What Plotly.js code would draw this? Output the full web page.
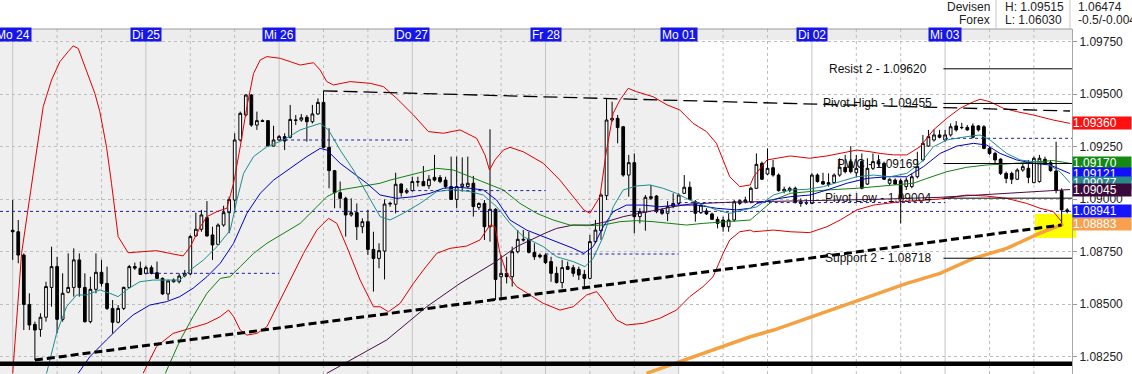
<!DOCTYPE html>
<html><head><meta charset="utf-8">
<script src="https://cdn.plot.ly/plotly-3.0.1.min.js"></script>
<style>html,body{margin:0;padding:0;background:#fff;}#chart{width:1132px;height:374px;}</style>
</head><body><div id="chart"></div>
<script>
// ---------------- DATA (hourly EUR/USD candles) ----------------
const openP = [1.08851,1.08844,1.08733,1.08498,1.08403,1.08379,1.08437,1.08579,1.08678,1.08427,
1.08556,1.08579,1.08710,1.08579,1.08416,1.08570,1.08651,1.08598,1.08479,1.08413,
1.08479,1.08579,1.08678,1.08670,1.08646,1.08673,1.08649,1.08622,1.08548,1.08606,
1.08606,1.08635,1.08643,1.08824,1.08856,1.08911,1.08829,1.08784,1.08876,1.08935,
1.08995,1.09281,1.09400,1.09495,1.09352,1.09373,1.09373,1.09252,1.09281,1.09297,
1.09294,1.09376,1.09376,1.09389,1.09368,1.09405,1.09460,1.09246,1.09135,1.09030,
1.09003,1.08924,1.08935,1.08868,1.08892,1.08760,1.08717,1.08752,1.08976,1.08975,
1.09071,1.09032,1.09040,1.09083,1.09083,1.09063,1.09103,1.09102,1.09090,1.09059,
1.08998,1.09059,1.09059,1.09075,1.08960,1.08979,1.08868,1.08951,1.08630,1.08646,
1.08630,1.08749,1.08808,1.08808,1.08746,1.08733,1.08733,1.08702,1.08646,1.08602,
1.08678,1.08673,1.08665,1.08641,1.08622,1.08797,1.08849,1.09016,1.09376,1.09384,
1.09344,1.09114,1.09173,1.08916,1.08937,1.09003,1.09014,1.08948,1.08932,1.08964,
1.08979,1.09027,1.09056,1.08987,1.08935,1.08943,1.08929,1.08903,1.08900,1.08868,
1.08900,1.08979,1.08987,1.08987,1.09051,1.09170,1.09119,1.09149,1.09114,1.09038,
1.09040,1.09051,1.08987,1.08983,1.08979,1.09114,1.09083,1.09078,1.09078,1.09114,
1.09151,1.09178,1.09125,1.09178,1.09071,1.09146,1.09178,1.09170,1.09075,1.09090,
1.09087,1.09059,1.09059,1.09106,1.09186,1.09252,1.09281,1.09305,1.09281,1.09305,
1.09348,1.09341,1.09341,1.09348,1.09348,1.09344,1.09241,1.09217,1.09190,1.09122,
1.09122,1.09094,1.09138,1.09146,1.09078,1.09083,1.09189,1.09173,1.09133,1.09040,
1.08948];
const highP = [1.08995,1.08900,1.08741,1.08551,1.08416,1.08456,1.08606,1.08773,1.08725,1.08646,
1.08741,1.08765,1.08741,1.08646,1.08630,1.08741,1.08710,1.08678,1.08519,1.08495,
1.08583,1.08686,1.08697,1.08702,1.08683,1.08684,1.08702,1.08627,1.08617,1.08622,
1.08646,1.08662,1.08829,1.08935,1.08948,1.08990,1.08868,1.08884,1.08968,1.09011,
1.09313,1.09416,1.09500,1.09500,1.09416,1.09379,1.09376,1.09349,1.09305,1.09313,
1.09448,1.09400,1.09405,1.09400,1.09448,1.09479,1.09515,1.09337,1.09138,1.09083,
1.09011,1.09003,1.08979,1.08908,1.08948,1.08844,1.08789,1.08998,1.08987,1.09125,
1.09075,1.09051,1.09106,1.09106,1.09157,1.09114,1.09210,1.09114,1.09106,1.09202,
1.09202,1.09198,1.09202,1.09110,1.08984,1.08995,1.09332,1.08956,1.08733,1.08725,
1.08773,1.08852,1.08852,1.08844,1.08789,1.08741,1.08741,1.08725,1.08678,1.08710,
1.08702,1.08686,1.08678,1.08662,1.08829,1.08900,1.09027,1.09479,1.09463,1.09400,
1.09348,1.09210,1.09217,1.08956,1.09019,1.09067,1.09019,1.08956,1.08990,1.09027,
1.09027,1.09114,1.09083,1.08995,1.08979,1.08956,1.08935,1.08916,1.08916,1.08932,
1.08995,1.08998,1.09011,1.09059,1.09217,1.09178,1.09241,1.09186,1.09122,1.09059,
1.09059,1.09059,1.09003,1.08998,1.09122,1.09122,1.09125,1.09122,1.09122,1.09194,
1.09210,1.09252,1.09210,1.09217,1.09194,1.09217,1.09210,1.09178,1.09098,1.09098,
1.09098,1.09103,1.09122,1.09225,1.09305,1.09329,1.09332,1.09329,1.09329,1.09360,
1.09371,1.09363,1.09352,1.09360,1.09352,1.09352,1.09249,1.09225,1.09194,1.09130,
1.09130,1.09146,1.09170,1.09186,1.09202,1.09210,1.09202,1.09186,1.09273,1.09051,
1.08956];
const lowP = [1.08710,1.08694,1.08376,1.08376,1.08233,1.08344,1.08416,1.08487,1.08360,1.08416,
1.08551,1.08535,1.08535,1.08411,1.08408,1.08551,1.08583,1.08471,1.08360,1.08408,
1.08471,1.08575,1.08662,1.08638,1.08641,1.08641,1.08619,1.08543,1.08519,1.08602,
1.08598,1.08627,1.08638,1.08821,1.08844,1.08821,1.08710,1.08781,1.08868,1.08837,
1.08932,1.09273,1.09392,1.09344,1.09329,1.09367,1.09252,1.09249,1.09278,1.09233,
1.09289,1.09352,1.09368,1.09273,1.09360,1.09400,1.09241,1.09051,1.08956,1.08956,
1.08821,1.08916,1.08805,1.08837,1.08733,1.08559,1.08670,1.08617,1.08963,1.08932,
1.09011,1.09024,1.09035,1.09059,1.09062,1.09048,1.09083,1.09075,1.09051,1.08995,
1.08956,1.09035,1.09051,1.08916,1.08948,1.08805,1.08797,1.08519,1.08519,1.08598,
1.08583,1.08741,1.08797,1.08741,1.08710,1.08717,1.08690,1.08606,1.08598,1.08575,
1.08662,1.08630,1.08614,1.08575,1.08617,1.08789,1.08805,1.08995,1.09368,1.09265,
1.09106,1.09011,1.08837,1.08884,1.08849,1.08995,1.08932,1.08924,1.08895,1.08956,
1.08971,1.09024,1.08995,1.08892,1.08929,1.08924,1.08900,1.08860,1.08844,1.08844,
1.08892,1.08971,1.08979,1.08979,1.09048,1.09090,1.09114,1.09106,1.09035,1.09027,
1.09032,1.08979,1.08963,1.08971,1.08976,1.09078,1.09067,1.09059,1.09075,1.09106,
1.09122,1.09122,1.09103,1.09046,1.09067,1.09138,1.09154,1.09090,1.09067,1.09067,
1.08884,1.09043,1.09051,1.09098,1.09178,1.09249,1.09273,1.09289,1.09273,1.09297,
1.09321,1.09332,1.09325,1.09289,1.09321,1.09237,1.09210,1.09162,1.09114,1.09075,
1.09071,1.09090,1.09130,1.09075,1.09075,1.09078,1.09162,1.09130,1.09027,1.08876,
1.08932];
const closeP = [1.08844,1.08733,1.08498,1.08400,1.08376,1.08437,1.08583,1.08678,1.08427,1.08551,
1.08579,1.08710,1.08579,1.08416,1.08570,1.08651,1.08598,1.08479,1.08413,1.08479,
1.08579,1.08678,1.08671,1.08641,1.08673,1.08646,1.08622,1.08548,1.08610,1.08614,
1.08633,1.08646,1.08821,1.08856,1.08924,1.08824,1.08781,1.08876,1.08935,1.08998,
1.09281,1.09408,1.09495,1.09352,1.09373,1.09370,1.09252,1.09281,1.09297,1.09276,
1.09379,1.09375,1.09387,1.09368,1.09405,1.09460,1.09246,1.09135,1.09030,1.09003,
1.08924,1.08935,1.08868,1.08892,1.08760,1.08717,1.08754,1.08976,1.08979,1.09070,
1.09030,1.09040,1.09083,1.09081,1.09063,1.09094,1.09090,1.09083,1.09059,1.08998,
1.09059,1.09071,1.09075,1.08964,1.08979,1.08868,1.08951,1.08617,1.08646,1.08630,
1.08749,1.08808,1.08805,1.08746,1.08725,1.08725,1.08697,1.08646,1.08602,1.08673,
1.08665,1.08646,1.08638,1.08622,1.08797,1.08852,1.09019,1.09376,1.09384,1.09340,
1.09114,1.09173,1.08916,1.08940,1.09008,1.09011,1.08940,1.08932,1.08964,1.08979,
1.09019,1.09056,1.08998,1.08932,1.08971,1.08929,1.08903,1.08884,1.08868,1.08900,
1.08987,1.08992,1.08995,1.09051,1.09165,1.09094,1.09146,1.09114,1.09040,1.09046,
1.09051,1.08983,1.08979,1.08981,1.09114,1.09083,1.09071,1.09070,1.09114,1.09151,
1.09130,1.09130,1.09146,1.09051,1.09146,1.09178,1.09167,1.09094,1.09094,1.09071,
1.09003,1.09090,1.09106,1.09154,1.09265,1.09297,1.09305,1.09294,1.09305,1.09344,
1.09329,1.09340,1.09329,1.09294,1.09329,1.09241,1.09217,1.09186,1.09122,1.09098,
1.09094,1.09138,1.09154,1.09103,1.09194,1.09194,1.09167,1.09135,1.09040,1.08948,
1.08941];

const dayLabels = ['Mo 24','Di 25','Mi 26','Do 27','Fr 28','Mo 01','Di 02','Mi 03'];
const dayStartIdx = [0,24,48,72,96,120,144,168];
const priceTicks = [1.0825,1.0850,1.0875,1.0900,1.0925,1.0950,1.0975];

// Bollinger bands (candle index, price)
const bbUpperX = [0,1.6,3.7,5.5,7.0,8.5,10.0,10.9,11.8,13.3,14.8,15.7,16.9,17.8,18.4,19.0,20.8,23.5,25.9,28.3,30.7,32.0,33.8,35.0,36.8,38.6,39.8,41.0,42.2,43.4,44.6,45.8,48.2,50.0,51.8,54.2,55.4,56.6,57.8,60.8,63.8,
64.4,66.8,69.2,72.2,74.9,77.6,80.6,83.6,85.1,85.9,86.9,88.4,89.6,92.0,95.6,98.6,101.0,102.9,104.0,105.8,107.0,108.2,109.4,110.9,112.4,115.4,117.9,120.2,122.6,125.0,126.8,128.0,129.2,131.0,132.9,
133.5,135.9,140.1,143.6,146.7,149.1,152.1,154.5,156.3,158.7,161.1,163.5,165.9,168.3,170.7,173.1,174.3,176.1,178.5,180.9,183.9,187.5,190.5];
const bbUpperY = [1.08170,1.08741,1.09122,1.09440,1.09567,1.09654,1.09702,1.09729,1.09717,1.09614,1.09503,1.09416,1.09249,1.09075,1.08932,1.08821,1.08744,1.08749,1.08754,1.08741,1.08729,1.08773,1.08868,1.08916,1.08940,1.08956,1.09075,1.09249,1.09440,1.09598,1.09662,1.09678,1.09670,1.09654,1.09638,1.09649,1.09614,1.09559,1.09543,1.09559,1.09551,
1.09551,1.09535,1.09479,1.09400,1.09321,1.09313,1.09329,1.09289,1.09210,1.09138,1.09186,1.09233,1.09246,1.09225,1.09170,1.09090,1.09011,1.08948,1.08932,1.09011,1.09233,1.09408,1.09471,1.09527,1.09511,1.09487,1.09448,1.09424,1.09360,1.09321,1.09265,1.09186,1.09106,1.09059,1.09067,
1.09106,1.09186,1.09205,1.09194,1.09205,1.09217,1.09233,1.09225,1.09217,1.09210,1.09210,1.09249,1.09329,1.09384,1.09432,1.09463,1.09475,1.09463,1.09432,1.09416,1.09400,1.09376,1.09360];
const bbLowerX = [23.5,25.9,28.9,32.0,35.0,37.4,38.9,39.8,41.0,42.2,44.0,45.8,47.6,50.0,52.4,54.8,56.9,58.4,60.2,62.6,65.0,
66.2,67.7,69.8,72.2,74.0,76.4,78.8,81.8,84.2,86.0,86.9,87.8,89.0,90.8,93.2,95.6,98.6,101.0,103.4,105.2,106.4,108.8,110.6,113.6,116.6,119.6,122.0,124.4,126.2,128.0,129.2,131.0,132.9,
133.5,137.1,140.1,143.6,146.7,149.1,152.1,155.1,159.9,164.7,168.3,171.9,175.5,179.1,182.7,185.1,187.5,189.0];
const bbLowerY = [1.08170,1.08297,1.08360,1.08384,1.08408,1.08440,1.08471,1.08440,1.08376,1.08352,1.08360,1.08392,1.08487,1.08614,1.08741,1.08852,1.08908,1.08884,1.08773,1.08614,1.08487,
1.08487,1.08463,1.08503,1.08598,1.08662,1.08741,1.08765,1.08776,1.08805,1.08876,1.08868,1.08741,1.08646,1.08583,1.08543,1.08503,1.08471,1.08487,1.08543,1.08559,1.08519,1.08424,1.08400,1.08408,1.08432,1.08471,1.08535,1.08583,1.08630,1.08741,1.08805,1.08844,1.08852,
1.08844,1.08852,1.08844,1.08840,1.08868,1.08900,1.08948,1.08971,1.08987,1.08995,1.09003,1.09019,1.09014,1.09003,1.08979,1.08956,1.08940,1.08892];

// Moving averages (candle index, price)
const maTealX = [6.1,7.9,9.7,11.5,13.3,15.7,17.5,19.0,20.5,22.9,25.3,27.7,30.1,32.0,34.4,36.8,39.2,40.4,41.6,43.4,45.8,48.8,51.8,55.4,56.9,59.0,61.4,63.8,66.2,
68.0,70.4,73.4,76.4,79.4,82.4,84.8,87.2,89.6,92.0,95.6,98.0,101.0,103.1,104.6,106.4,108.2,110.0,112.4,114.8,117.2,119.6,122.0,124.4,126.8,129.2,132.9,
134.1,137.1,140.1,143.1,146.1,149.1,152.1,155.1,158.1,161.1,163.5,165.9,168.3,171.9,174.3,176.1,179.1,181.5,183.9,186.3,188.7,190.5];
const maTealY = [1.08170,1.08360,1.08487,1.08543,1.08543,1.08567,1.08551,1.08535,1.08567,1.08606,1.08614,1.08614,1.08614,1.08662,1.08710,1.08773,1.08852,1.08995,1.09122,1.09202,1.09249,1.09281,1.09329,1.09360,1.09329,1.09233,1.09138,1.09027,1.08916,
1.08900,1.08932,1.08979,1.09035,1.09046,1.09035,1.09019,1.08963,1.08884,1.08821,1.08773,1.08725,1.08702,1.08678,1.08717,1.08821,1.08963,1.09043,1.09062,1.09067,1.09051,1.09027,1.08995,1.08971,1.08948,1.08932,1.08956,
1.08963,1.09019,1.09043,1.09046,1.09059,1.09083,1.09106,1.09114,1.09106,1.09122,1.09170,1.09249,1.09281,1.09297,1.09305,1.09281,1.09217,1.09186,1.09178,1.09170,1.09130,1.09077];
const maBlueX = [11.8,13.9,16.9,19.3,21.7,24.7,27.7,30.1,32.5,35.0,37.4,39.8,42.2,44.6,47.0,50.0,53.0,55.4,56.6,59.0,61.4,63.8,66.2,
69.2,72.2,75.2,77.6,80.0,82.4,84.8,87.2,89.6,92.6,95.6,98.6,101.0,102.9,104.6,106.4,108.2,110.6,113.6,116.6,119.6,123.2,126.8,130.4,132.9,
134.1,137.1,140.1,143.7,146.7,150.3,153.9,157.5,161.1,164.1,167.1,170.1,173.1,175.5,177.9,180.9,183.9,186.9,190.5];
const maBlueY = [1.08170,1.08249,1.08329,1.08392,1.08448,1.08495,1.08511,1.08535,1.08575,1.08630,1.08694,1.08789,1.08932,1.09027,1.09090,1.09146,1.09202,1.09241,1.09233,1.09170,1.09122,1.09075,1.09019,
1.09003,1.09011,1.09027,1.09051,1.09056,1.09051,1.09043,1.08995,1.08900,1.08852,1.08821,1.08789,1.08765,1.08741,1.08773,1.08868,1.08940,1.08971,1.08971,1.08963,1.08971,1.08971,1.08956,1.08948,1.08956,
1.08979,1.08998,1.09011,1.09019,1.09043,1.09075,1.09098,1.09106,1.09106,1.09154,1.09217,1.09252,1.09265,1.09257,1.09217,1.09186,1.09170,1.09162,1.09121];
const maGreenX = [27.5,30.2,32.5,35.0,37.4,39.2,41.0,43.4,45.8,48.8,51.8,54.8,56.6,59.0,62.6,66.2,
68.0,71.6,76.4,79.4,82.4,85.4,88.4,91.4,94.4,97.4,100.4,103.4,106.4,109.4,112.4,115.4,118.4,121.4,124.4,128.0,132.9,
134.0,137.1,140.1,146.7,152.1,159.9,162.3,164.7,168.3,171.9,175.5,179.1,183.9,187.5,190.5];
const maGreenY = [1.08170,1.08329,1.08440,1.08551,1.08622,1.08630,1.08678,1.08741,1.08789,1.08837,1.08884,1.08963,1.09011,1.09043,1.09059,1.09075,
1.09090,1.09114,1.09146,1.09138,1.09106,1.09075,1.09043,1.08979,1.08932,1.08900,1.08876,1.08873,1.08876,1.08892,1.08897,1.08892,1.08884,1.08876,1.08884,1.08892,1.08900,
1.08925,1.08995,1.09027,1.09043,1.09051,1.09067,1.09075,1.09098,1.09130,1.09151,1.09162,1.09167,1.09178,1.09183,1.09170];
const maPurpleX = [56.6,66.2,67.4,74.6,80.6,86.6,90.8,95.9,98.0,101.0,104.0,107.0,110.0,113.0,116.0,119.0,122.0,128.4,143.1,155.1,167.1,179.1,190.5];
const maPurpleY = [1.08170,1.08313,1.08329,1.08487,1.08598,1.08694,1.08773,1.08837,1.08860,1.08876,1.08876,1.08892,1.08916,1.08932,1.08948,1.08963,1.08976,1.08984,1.08992,1.08998,1.09008,1.09027,1.09045];
const maOrangeX = [114.2,132.9,137.1,143.1,149.1,155.1,161.1,167.1,173.1,179.1,185.1,189.3];
const maOrangeY = [1.08170,1.08344,1.08376,1.08432,1.08487,1.08543,1.08598,1.08646,1.08717,1.08765,1.08837,1.08880];

// Trend lines and levels
const supportTrendX = [4, 189];
const supportTrendY = [1.08233, 1.08876];
const resistTrendX = [56, 190.5];
const resistTrendY = [1.09515, 1.09419];
const baseLevel = 1.08216;
const pivotNames = ['Resist 2','Pivot High','PWC','Pivot Low','Support 2'];
const pivotValues = [1.09620, 1.09455, 1.09169, 1.09004, 1.08718];
const dayLevelStart = [24, 48, 72, 96, 120, 144, 168];
const dayLevelEnd   = [48, 72, 96, 120, 144, 168, 191];
const dayLevelValue = [1.08646, 1.09281, 1.09040, 1.08738, 1.08983, 1.08983, 1.09289];
const badgeNames  = ['bbUpper','maGreen','maBlue','maTeal','maPurple','maOrange','last'];
const badgeValues = [1.09360, 1.09170, 1.09121, 1.09077, 1.09045, 1.08883, 1.08941];
const headerLeft  = ['Devisen','Forex'];
const headerMid   = ['H: 1.09515','L: 1.06030'];
const headerRight = ['1.06474','-0.5/-0.004'];

// ---------------- LAYOUT / STYLE ----------------
const W = 1132, H = 374, ML = 0, MR = 60, MT = 29, MB = 0;
const plotW = W - ML - MR, plotH = H - MT - MB;
const pxPerCandle = 5.55, firstPx = 12.7;
const xMin = -firstPx / pxPerCandle, xMax = xMin + plotW / pxPerCandle;
const yMin = 1.081667, yMax = 1.098095;
const py = p => (H - MB - p) / plotH;         // pixel row -> paper y
const pxX = p => (p - ML) / plotW;            // pixel col -> paper x
const FONT = 'Liberation Sans, Arial, sans-serif';
const styleMap = {
  bbUpper: '#e00000', bbLower: '#e00000', maTeal: '#1f8c8c', maBlue: '#0000c8',
  maGreen: '#128012', maPurple: '#4a0a48', maOrange: '#f5a142', last: '#1414ff'
};
const badgeBg = {bbUpper:'#ff1010', maGreen:'#148a14', maBlue:'#1010ff', maTeal:'#2a8a8a',
  maPurple:'#3a0a3a', maOrange:'#f8a050', last:'#1414ff'};

const idx = closeP.map((_, i) => i);
const traces = [];

traces.push({
  type: 'candlestick', x: idx, open: openP, high: highP, low: lowP, close: closeP,
  increasing: {line: {color: '#000', width: 1}, fillcolor: '#ffffff'},
  decreasing: {line: {color: '#000', width: 1}, fillcolor: '#000000'},
  whiskerwidth: 0, hoverinfo: 'skip', showlegend: false
});

function line(x, y, color, width, dash) {
  traces.push({type: 'scatter', mode: 'lines', x: x, y: y, hoverinfo: 'skip', showlegend: false,
    line: {color: color, width: width, dash: dash || 'solid', shape: 'linear'}});
}
// previous-day blue dotted levels
dayLevelValue.forEach((v, k) => line([dayLevelStart[k], Math.min(dayLevelEnd[k], xMax)], [v, v], '#1c1ca0', 1, '3px,3px'));
// current price line
const lastClose = closeP[closeP.length - 1];
line([xMin, xMax], [lastClose, lastClose], '#1c1ca0', 1, '3px,3px');
// indicators
line(bbUpperX, bbUpperY, styleMap.bbUpper, 1);
line(bbLowerX, bbLowerY, styleMap.bbLower, 1);
line(maPurpleX, maPurpleY, styleMap.maPurple, 1);
line(maGreenX, maGreenY, styleMap.maGreen, 1);
line(maBlueX, maBlueY, styleMap.maBlue, 1);
line(maTealX, maTealY, styleMap.maTeal, 1);
line(maOrangeX, maOrangeY, styleMap.maOrange, 3.5);
// trend lines
line(supportTrendX, supportTrendY, '#000', 3, '8px,4px');
line(resistTrendX, resistTrendY, '#000', 1.3, '14px,6px');
line([xMin, xMax], [baseLevel, baseLevel], '#000', 4.5);
// pivot lines
pivotValues.forEach(v => line([dayStartIdx[7] - 0.3, xMax], [v, v], '#000', 1));

const shapes = [];
// grey background of past week
shapes.push({type:'rect', xref:'x', yref:'paper', x0:xMin, x1:dayStartIdx[5], y0:0, y1:py(40),
  fillcolor:'#efefef', line:{width:0}, layer:'below'});
// date bar
shapes.push({type:'rect', xref:'paper', yref:'paper', x0:0, x1:1, y0:py(40), y1:1,
  fillcolor:'#ececec', line:{width:0}, layer:'below'});
shapes.push({type:'line', xref:'paper', yref:'paper', x0:0, x1:1, y0:1, y1:1,
  line:{color:'#9a9a9a', width:1}, layer:'above'});
// vertical grid (days solid, 8 h dashed)
for (let k = 0; k * 8 <= xMax; k++) {
  const xi = k * 8;
  const solid = (k % 3 === 0);
  shapes.push({type:'line', xref:'x', yref:'paper', x0:xi, x1:xi, y0:0, y1:1,
    line:{color: solid ? '#c4c4c4' : '#bdbdbd', width:1, dash: solid ? 'solid' : '3px,3px'}, layer:'below'});
}
// yellow highlight at last price
shapes.push({type:'rect', xref:'paper', yref:'paper', x0:pxX(1035), x1:pxX(1076), y0:py(238), y1:py(214),
  fillcolor:'#ffff00', line:{width:0}, layer:'below'});
// header separators
[996, 1070].forEach(p => shapes.push({type:'line', xref:'paper', yref:'paper', x0:pxX(p), x1:pxX(p), y0:py(29), y1:py(0),
  line:{color:'#c8c8c8', width:1}}));

const annotations = [];
dayLabels.forEach((t, k) => annotations.push({
  xref:'x', yref:'paper', x:dayStartIdx[k], y:py(34.5), xanchor:'center', yanchor:'middle',
  text:t, showarrow:false, bgcolor:'#1616e8', font:{family:FONT, size:12, color:'#ffffff'},
  height:11, borderpad:1
}));
pivotValues.forEach((v, k) => annotations.push({
  xref:'x', yref:'y', x:155.9, y:v, xanchor:'center', yanchor:'middle', showarrow:false,
  text: pivotNames[k] + ' - ' + v.toFixed(5), font:{family:FONT, size:12, color:'#111'}
}));
badgeValues.forEach((v, k) => annotations.push({
  xref:'paper', yref:'y', x:1, y:v, xanchor:'left', yanchor:'middle', showarrow:false,
  text: v.toFixed(5), bgcolor: badgeBg[badgeNames[k]], font:{family:FONT, size:12, color:'#ffffff'},
  width:58, height:12, borderpad:0, align:'left'
}));
headerLeft.forEach((t, k) => annotations.push({xref:'paper', yref:'paper', x:pxX(992), y:py(k ? 20 : 7),
  xanchor:'right', yanchor:'middle', showarrow:false, text:t, font:{family:FONT, size:12, color:'#222'}}));
headerMid.forEach((t, k) => annotations.push({xref:'paper', yref:'paper', x:pxX(1003), y:py(k ? 20 : 7),
  xanchor:'left', yanchor:'middle', showarrow:false, text:t, font:{family:FONT, size:12, color:'#222'}}));
headerRight.forEach((t, k) => annotations.push({xref:'paper', yref:'paper', x:pxX(1076), y:py(k ? 20 : 7),
  xanchor:'left', yanchor:'middle', showarrow:false, text:t, font:{family:FONT, size:12, color:'#222'}}));

const layout = {
  width: W, height: H, margin: {l: ML, r: MR, t: MT, b: MB, pad: 0},
  paper_bgcolor: '#ffffff', plot_bgcolor: 'rgba(0,0,0,0)',
  showlegend: false, dragmode: false, hovermode: false,
  font: {family: FONT, size: 12, color: '#222'},
  xaxis: {range: [xMin, xMax], showgrid: false, zeroline: false, showline: false,
    showticklabels: false, ticks: '', rangeslider: {visible: false}, fixedrange: true},
  yaxis: {range: [yMin, yMax], side: 'right', tickvals: priceTicks,
    ticktext: priceTicks.map(v => v.toFixed(5)), tickfont: {family: FONT, size: 12, color: '#222'},
    ticks: 'outside', ticklen: 4, tickcolor: '#9a9a9a', showline: true, linecolor: '#a8a8a8',
    showgrid: true, gridcolor: '#bdbdbd', griddash: '3px,3px', zeroline: false, fixedrange: true},
  shapes: shapes, annotations: annotations
};
Plotly.newPlot('chart', traces, layout, {displayModeBar: false, staticPlot: true});
</script></body></html>
